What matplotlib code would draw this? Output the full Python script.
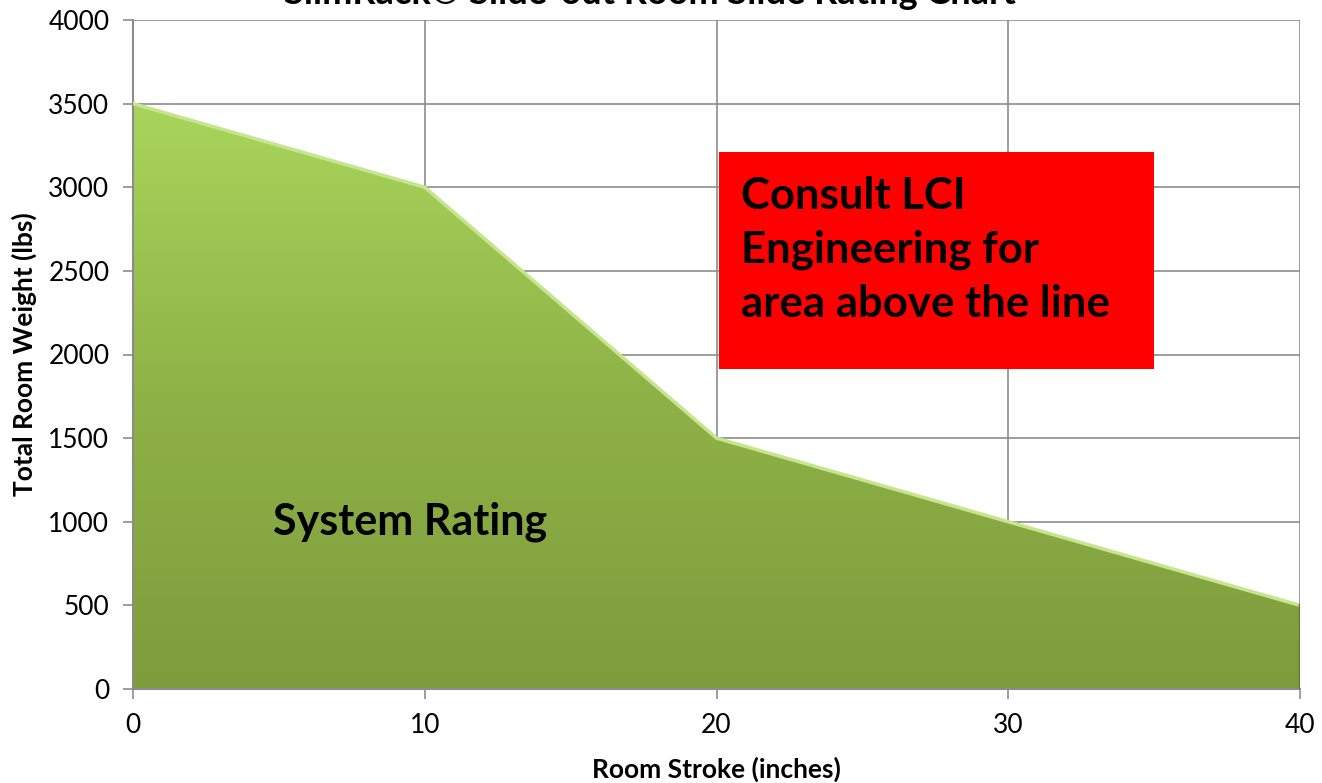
import numpy as np
import matplotlib
matplotlib.use("Agg")
import matplotlib.pyplot as plt
from matplotlib.patches import Polygon, Rectangle
from matplotlib.colors import LinearSegmentedColormap

# data
stroke = ["0", "10", "20", "30", "40"]
weight = [3500, 3000, 1500, 1000, 500]
yticks = [0, 500, 1000, 1500, 2000, 2500, 3000, 3500, 4000]

plt.rcParams['font.family'] = ['Lato', 'DejaVu Sans']

fig = plt.figure(figsize=(13.22, 7.83), dpi=100)
ax = fig.add_axes([133/1322, 1-689/783, (1300-133)/1322, (689-20)/783])

xs = np.arange(len(stroke))
ax.set_xlim(0, len(stroke)-1)
ax.set_ylim(0, 4000)

# gridlines
ax.set_axisbelow(True)
ax.grid(True, color="#8c8c8c", linewidth=1.2)

# gradient fill clipped to the area
verts = [(0, 0)] + list(zip(xs, weight)) + [(xs[-1], 0)]
poly = Polygon(verts, closed=True, facecolor="none", edgecolor="none")
ax.add_patch(poly)
grad = np.linspace(0, 1, 256).reshape(-1, 1)
cmap = LinearSegmentedColormap.from_list("g", ["#7d9c3c", "#8fb247", "#a9d55c"])
im = ax.imshow(grad, cmap=cmap, origin="lower", aspect="auto",
               extent=[0, xs[-1], 0, 3500], zorder=2)
im.set_clip_path(poly)
ax.plot(xs, weight, color="#c6e58f", linewidth=2.5, zorder=3)
ax.plot([xs[-1], xs[-1]], [0, weight[-1]], color="#5f7a2c", linewidth=2.5, zorder=3)

# red note box
ax.add_patch(Rectangle((2.01, 1913), 1.49, 1298, facecolor="#ff0000",
                       edgecolor="none", zorder=4))
ax.text(2.085, 2625, "Consult LCI\nEngineering for\narea above the line",
        fontsize=31.5, fontweight="bold", va="center", ha="left",
        linespacing=1.43, zorder=5)
ax.text(0.48, 1000, "System Rating", fontsize=31, fontweight="bold",
        va="center", ha="left", zorder=5)

ax.set_xticks(xs)
ax.set_xticklabels(stroke, fontsize=19)
ax.set_yticks(yticks)
ax.set_yticklabels([str(v) for v in yticks], fontsize=19)
ax.tick_params(axis="both", color="#8c8c8c", length=7, width=1.2, pad=10)
ax.tick_params(axis="x", pad=10)
for s in ["top", "right"]:
    ax.spines[s].set_visible(False)
for s in ["left", "bottom"]:
    ax.spines[s].set_color("#8c8c8c")
    ax.spines[s].set_linewidth(1.5)

ax.set_xlabel("Room Stroke (inches)", fontsize=19, fontweight="bold", labelpad=14)
ax.set_ylabel("Total Room Weight (lbs)", fontsize=19, fontweight="bold", labelpad=8)

fig.text(650/1322, 1-4/783, "SlimRack\u00ae Slide-out Room Slide Rating Chart",
         fontsize=26, fontweight="bold", ha="center", va="baseline")

fig.savefig("out.png", dpi=100)
